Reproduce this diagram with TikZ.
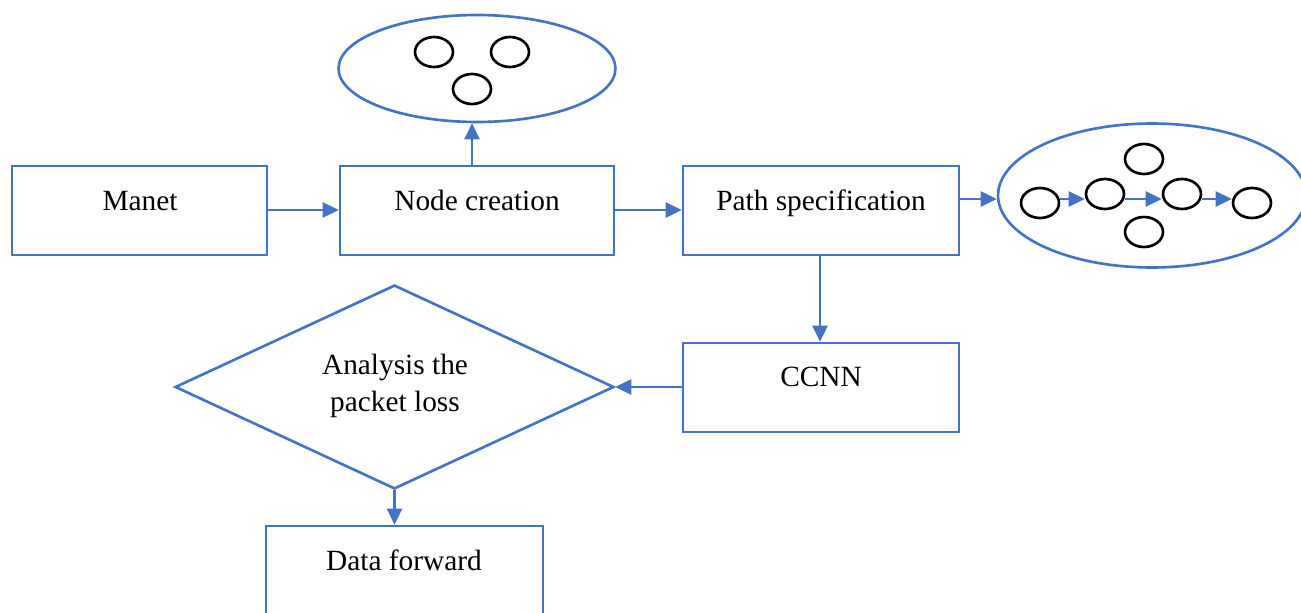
\documentclass[tikz,border=0pt]{standalone}
\usepackage{fontspec}
\setmainfont{Liberation Serif}
\usetikzlibrary{arrows.meta,shapes.geometric}
\definecolor{lblue}{HTML}{4472C4}
\tikzset{
  px/.style={x=0.02cm,y=-0.02cm},
  box/.style={draw=lblue,line width=1.5pt,rectangle,inner sep=0pt},
  ell/.style={draw=lblue,line width=1.5pt,ellipse,inner sep=0pt},
  dot/.style={draw=black,line width=1.5pt,ellipse,inner sep=0pt,minimum width=0.76cm,minimum height=0.6cm},
  lbl/.style={font=\fontsize{16.7}{21}\selectfont,inner sep=0pt,anchor=base},
  arr/.style={draw=lblue,line width=1.5pt,-{Triangle[length=0.32cm,width=0.3cm]}},
}
\begin{document}
\begin{tikzpicture}[px]
\useasboundingbox (0,0) rectangle (1301,612);
\clip (0,0) rectangle (1301,612);
\fill[white] (0,0) rectangle (1301,612);
% boxes
\node[box,minimum width=5.10cm,minimum height=1.78cm] (manet) at (139.5,210.5) {};
\node[box,minimum width=5.48cm,minimum height=1.78cm] (create) at (477,210.5) {};
\node[box,minimum width=5.52cm,minimum height=1.78cm] (path) at (821,210.5) {};
\node[box,minimum width=5.52cm,minimum height=1.78cm] (ccnn) at (821,387.5) {};
\node[box,minimum width=5.54cm,minimum height=1.90cm] (data) at (404.5,573.5) {};
\node[draw=lblue,line width=1.5pt,diamond,inner sep=0pt,minimum width=8.78cm,minimum height=4.08cm] (dia) at (394.5,387) {};
% labels
\node[lbl] (tmanet) at (140,210) {Manet};
\node[lbl] (tcreate) at (477,210) {Node creation};
\node[lbl] (tpath) at (821,210) {Path specification};
\node[lbl] (tccnn) at (821,386) {CCNN};
\node[lbl] (tdata) at (404,570) {Data forward};
\node[lbl] (tdia1) at (395,374) {Analysis the};
\node[lbl] (tdia2) at (395,411) {packet loss};
% top ellipse
\node[ell,minimum width=5.54cm,minimum height=2.14cm] (e1) at (477,68.5) {};
\node[dot] (a1) at (434,52) {};
\node[dot] (a2) at (510,52) {};
\node[dot] (a3) at (472,89) {};
% right ellipse
\node[ell,minimum width=6.16cm,minimum height=2.88cm] (e2) at (1152,195.5) {};
\node[dot] (b1) at (1040,203) {};
\node[dot] (b2) at (1105,194) {};
\node[dot] (b3) at (1182,194) {};
\node[dot] (b4) at (1252,203) {};
\node[dot] (b5) at (1144,159) {};
\node[dot] (b6) at (1144,232) {};
\draw[arr] (b1.east |- 0,199) -- (b2.west |- 0,199);
\draw[arr] (b2.east |- 0,199) -- (b3.west |- 0,199);
\draw[arr] (b3.east |- 0,199) -- (b4.west |- 0,199);
% connectors
\draw[arr] (manet.east |- 0,210) -- (create.west |- 0,210);
\draw[arr] (create.east |- 0,210) -- (path.west |- 0,210);
\draw[arr] (path.east |- 0,199) -- (e2.west |- 0,199);
\draw[arr] (create.north -| 472,0) -- (e1.south -| 472,0);
\draw[arr] (path.south -| 820,0) -- (ccnn.north -| 820,0);
\draw[arr] (ccnn.west |- dia.east) -- (dia.east);
\draw[arr] (dia.south) -- (data.north -| dia.south);
\end{tikzpicture}
\end{document}
